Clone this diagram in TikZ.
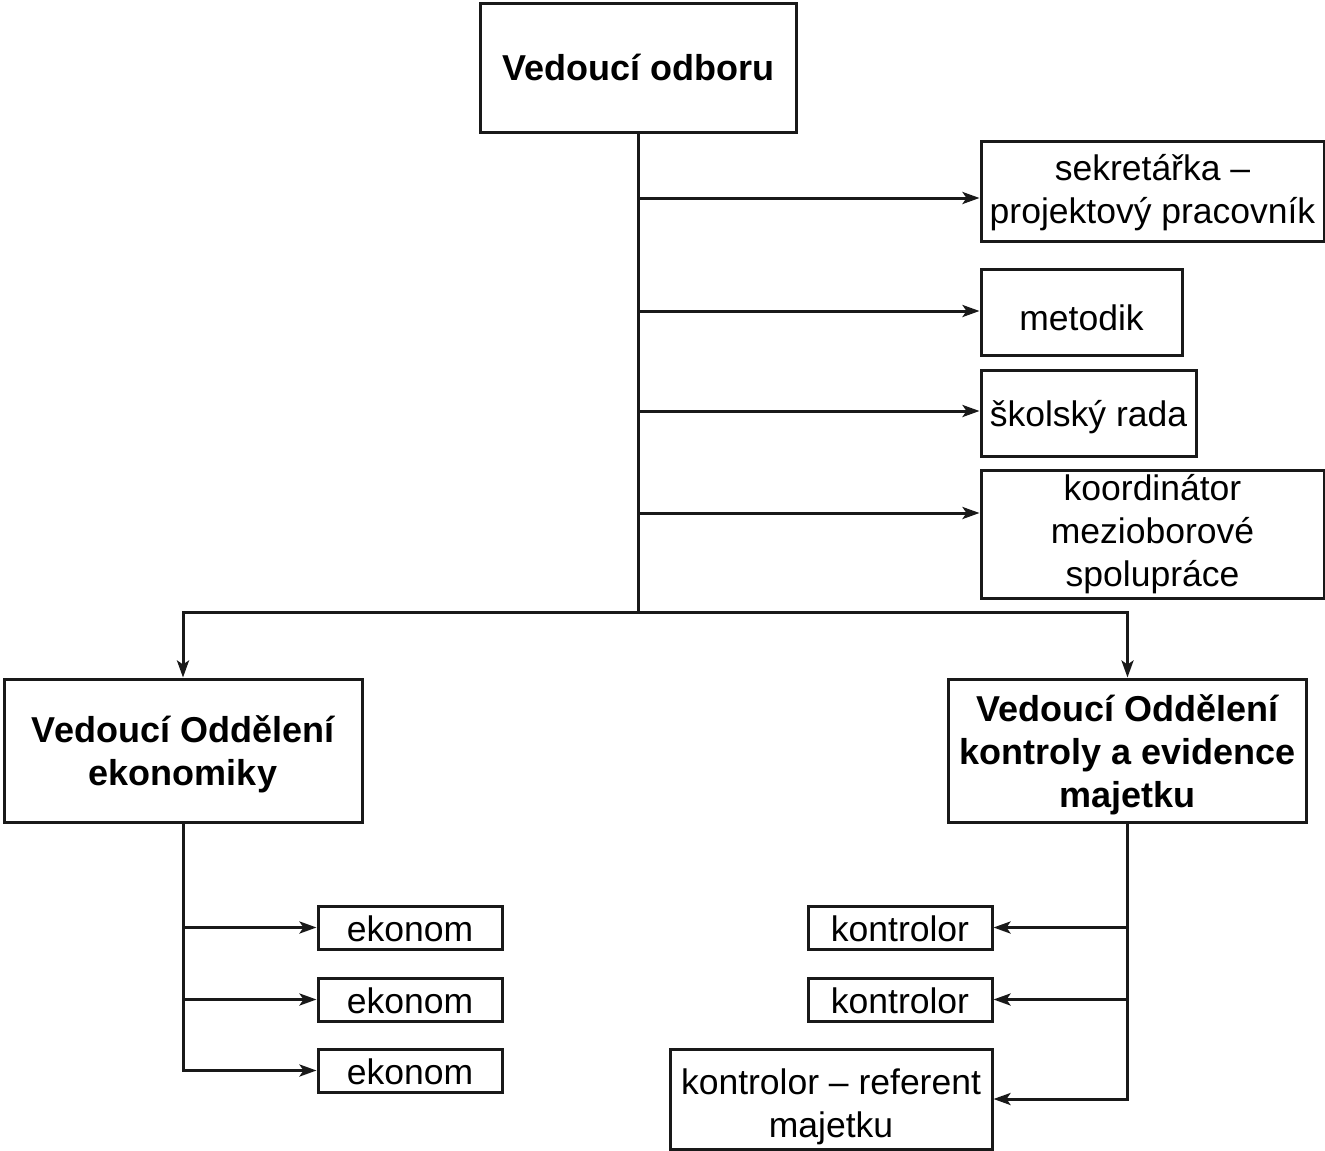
\documentclass[tikz,border=0pt]{standalone}
\usepackage{fontspec}
\setmainfont{Liberation Sans}
\usetikzlibrary{arrows.meta}
\newcommand\dnx[2]{\raisebox{-#1}[\height][\depth]{#2}}
\begin{document}
\begin{tikzpicture}[x=1pt,y=-1pt,
  box/.style={draw=black!90,line width=3pt,rectangle,inner sep=0pt,align=center,
    font=\fontsize{35.5}{43}\selectfont},
  bbox/.style={box,font=\fontsize{36}{43}\selectfont\bfseries},
  conn/.style={draw=black!90,line width=3pt},
  arr/.style={conn,-{Stealth[length=17pt,width=12pt,inset=4pt]}}]
\useasboundingbox (0,0) rectangle (1325,1151);
\node[bbox,minimum width=316pt,minimum height=129pt] (top) at (638,67.5) {Vedoucí odboru};
\node[box,minimum width=343pt,minimum height=100pt] (sek) at (1152.5,191) {\dnx{2pt}{sekretářka –}\\\dnx{2pt}{projektový pracovník}};
\node[box,minimum width=201pt,minimum height=86pt] (met) at (1081.5,312) {\dnx{6pt}{metodik}};
\node[box,minimum width=215pt,minimum height=86pt] (sko) at (1088.5,413) {\dnx{4pt}{školský rada}};
\node[box,minimum width=343pt,minimum height=128pt] (koo) at (1152.5,534) {koordinátor\\mezioborové\\spolupráce};
\node[bbox,minimum width=358pt,minimum height=143pt] (lb) at (183,750.5) {\dnx{4pt}{Vedoucí Oddělení}\\\dnx{4pt}{ekonomiky}};
\node[bbox,minimum width=358pt,minimum height=143pt] (rb) at (1127.5,750.5) {\dnx{4pt}{Vedoucí Oddělení}\\\dnx{4pt}{kontroly a evidence}\\\dnx{4pt}{majetku}};
\node[box,minimum width=184pt,minimum height=43pt] (e1) at (410,927.5) {\dnx{1pt}{ekonom}};
\node[box,minimum width=184pt,minimum height=43pt] (e2) at (410,999.5) {\dnx{1pt}{ekonom}};
\node[box,minimum width=184pt,minimum height=43pt] (e3) at (410,1070.5) {\dnx{1pt}{ekonom}};
\node[box,minimum width=184pt,minimum height=43pt] (k1) at (900,927.5) {\dnx{1pt}{kontrolor}};
\node[box,minimum width=184pt,minimum height=43pt] (k2) at (900,999.5) {\dnx{1pt}{kontrolor}};
\node[box,minimum width=322pt,minimum height=100pt] (kr) at (831,1099) {\dnx{8pt}{kontrolor – referent}\\\dnx{8pt}{majetku}};
% top trunk
\coordinate (bus) at (638,612);
\coordinate (t1) at (638,198);
\coordinate (t2) at (638,311);
\coordinate (t3) at (638,411);
\coordinate (t4) at (638,513);
\draw[conn] (top.south) -- (bus);
\draw[arr] (t1) -- (t1 -| sek.west);
\draw[arr] (t2) -- (t2 -| met.west);
\draw[arr] (t3) -- (t3 -| sko.west);
\draw[arr] (t4) -- (t4 -| koo.west);
\draw[arr] (bus) -| (lb.north);
\draw[arr] (bus) -| (rb.north);
% left
\draw[arr] (lb.south) |- (e3.west);
\draw[arr] (lb.south |- e1.west) -- (e1.west);
\draw[arr] (lb.south |- e2.west) -- (e2.west);
% right
\draw[arr] (rb.south) |- (kr.east);
\draw[arr] (rb.south |- k1.east) -- (k1.east);
\draw[arr] (rb.south |- k2.east) -- (k2.east);
\end{tikzpicture}
\end{document}
